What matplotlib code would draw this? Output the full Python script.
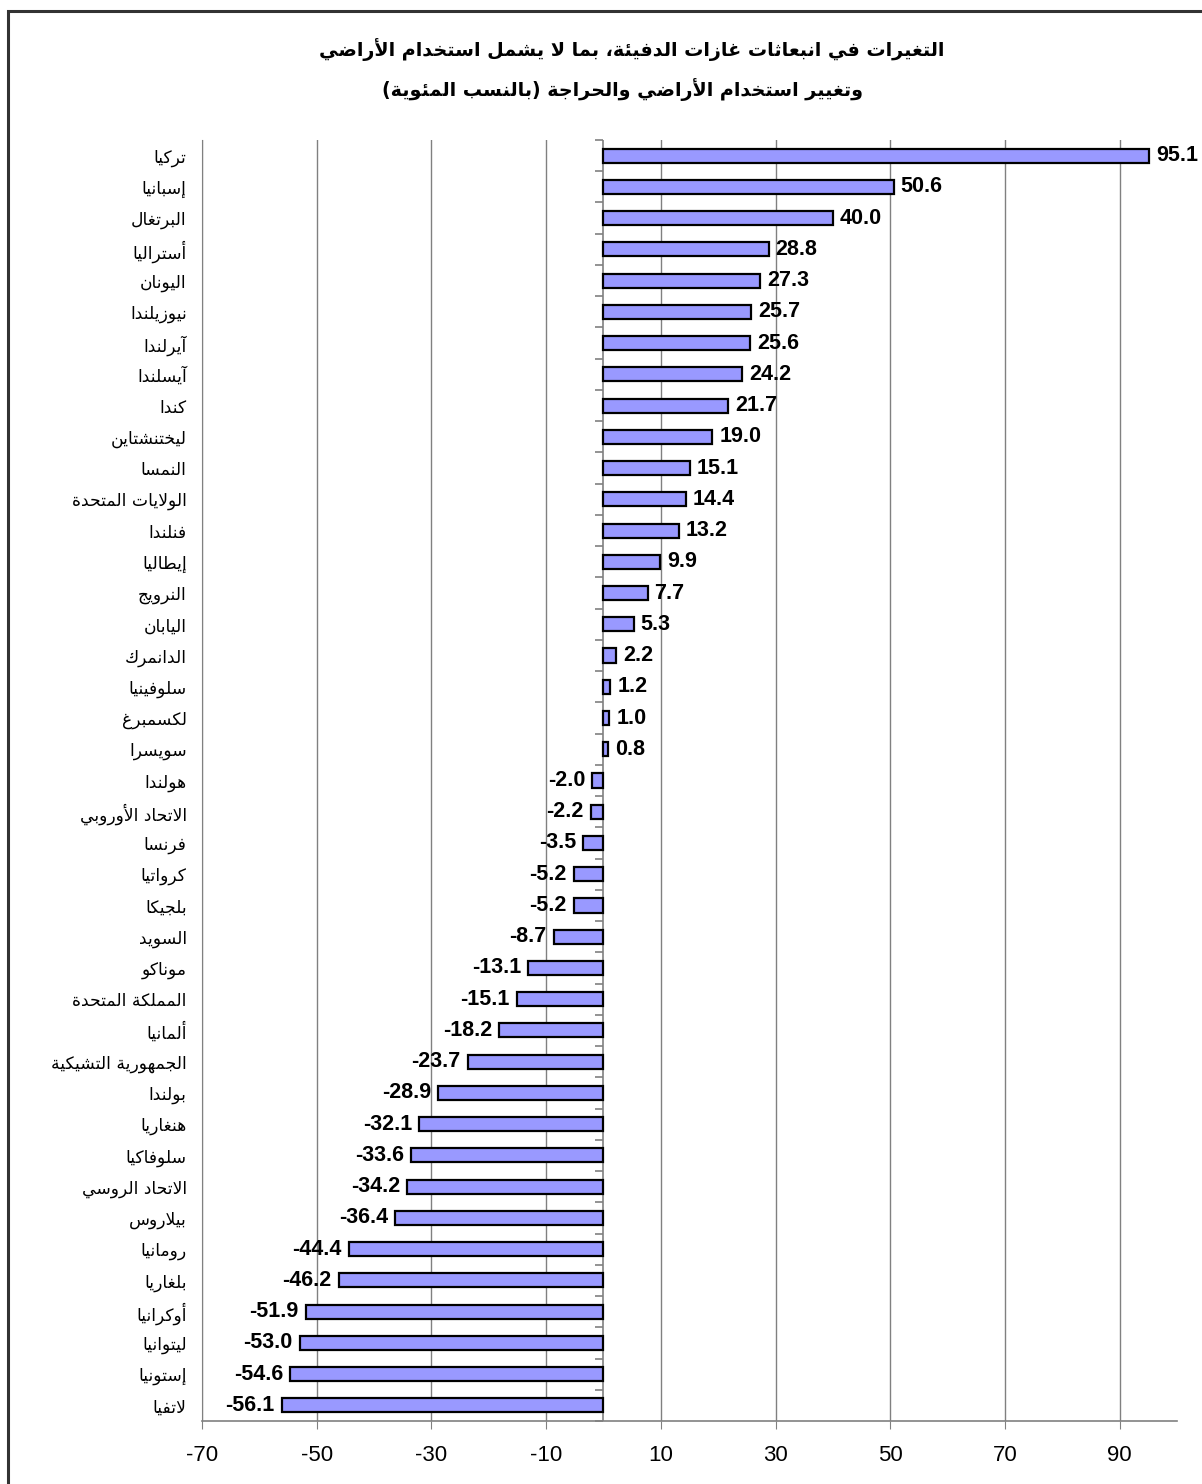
import matplotlib
matplotlib.use("Agg")
import matplotlib.pyplot as plt
from matplotlib.patches import Rectangle
from matplotlib.markers import TICKLEFT

# ---------------- data ----------------
countries = [
    "تركيا", "إسبانيا", "البرتغال", "أستراليا", "اليونان", "نيوزيلندا",
    "آيرلندا", "آيسلندا", "كندا", "ليختنشتاين", "النمسا", "الولايات المتحدة",
    "فنلندا", "إيطاليا", "النرويج", "اليابان", "الدانمرك", "سلوفينيا",
    "لكسمبرغ", "سويسرا", "هولندا", "الاتحاد الأوروبي", "فرنسا", "كرواتيا",
    "بلجيكا", "السويد", "موناكو", "المملكة المتحدة", "ألمانيا",
    "الجمهورية التشيكية", "بولندا", "هنغاريا", "سلوفاكيا", "الاتحاد الروسي",
    "بيلاروس", "رومانيا", "بلغاريا", "أوكرانيا", "ليتوانيا", "إستونيا", "لاتفيا",
]
values = [
    95.1, 50.6, 40.0, 28.8, 27.3, 25.7, 25.6, 24.2, 21.7, 19.0, 15.1, 14.4,
    13.2, 9.9, 7.7, 5.3, 2.2, 1.2, 1.0, 0.8, -2.0, -2.2, -3.5, -5.2, -5.2,
    -8.7, -13.1, -15.1, -18.2, -23.7, -28.9, -32.1, -33.6, -34.2, -36.4,
    -44.4, -46.2, -51.9, -53.0, -54.6, -56.1,
]
xticks = [-70, -50, -30, -10, 10, 30, 50, 70, 90]
title_lines = [
    "التغيرات في انبعاثات غازات الدفيئة، بما لا يشمل استخدام الأراضي",
    "وتغيير استخدام الأراضي والحراجة (بالنسب المئوية)",
]

# ---------------- simple Arabic shaping ----------------
DUAL = {'ئ': 0xFE89, 'ب': 0xFE8F, 'ت': 0xFE95, 'ث': 0xFE99, 'ج': 0xFE9D,
        'ح': 0xFEA1, 'خ': 0xFEA5, 'س': 0xFEB1, 'ش': 0xFEB5, 'ص': 0xFEB9,
        'ض': 0xFEBD, 'ط': 0xFEC1, 'ظ': 0xFEC5, 'ع': 0xFEC9, 'غ': 0xFECD,
        'ف': 0xFED1, 'ق': 0xFED5, 'ك': 0xFED9, 'ل': 0xFEDD, 'م': 0xFEE1,
        'ن': 0xFEE5, 'ه': 0xFEE9, 'ي': 0xFEF1}
RIGHT = {'آ': 0xFE81, 'أ': 0xFE83, 'ؤ': 0xFE85, 'إ': 0xFE87, 'ا': 0xFE8D,
         'ة': 0xFE93, 'د': 0xFEA9, 'ذ': 0xFEAB, 'ر': 0xFEAD, 'ز': 0xFEAF,
         'و': 0xFEED, 'ى': 0xFEEF}
NONJ = {'ء': 0xFE80}
LAMALEF = {'آ': 0xFEF5, 'أ': 0xFEF7, 'إ': 0xFEF9, 'ا': 0xFEFB}


def shape(s):
    out = []
    i, n = 0, len(s)
    while i < n:
        c = s[i]
        prev = s[i - 1] if i > 0 else ''
        jp = prev in DUAL
        if c == 'ل' and i + 1 < n and s[i + 1] in LAMALEF:
            out.append(chr(LAMALEF[s[i + 1]] + (1 if jp else 0)))
            i += 2
            continue
        nxt = s[i + 1] if i + 1 < n else ''
        jn = nxt in DUAL or nxt in RIGHT
        if c in DUAL:
            b = DUAL[c]
            if jp and jn:
                f = b + 3
            elif jp:
                f = b + 1
            elif jn:
                f = b + 2
            else:
                f = b
            out.append(chr(f))
        elif c in RIGHT:
            out.append(chr(RIGHT[c] + (1 if jp else 0)))
        elif c in NONJ:
            out.append(chr(NONJ[c]))
        else:
            out.append(c)
        i += 1
    vis = ''.join(reversed(out))
    return vis.translate(str.maketrans('()', ')('))


# ---------------- figure ----------------
W, H = 1202, 1484
fig = plt.figure(figsize=(W / 100, H / 100), dpi=100)
fig.patch.set_facecolor('white')

# outer chart frame
fig.add_artist(Rectangle((8 / W, -0.1), 1.2, 1 - 11 / H + 0.1,
                         transform=fig.transFigure, fill=False,
                         ec='#333333', lw=2.2))

left, right, top, bottom = 202, 1177, 140, 1421
ax = fig.add_axes([left / W, 1 - bottom / H, (right - left) / W, (bottom - top) / H])

n = len(countries)
ypos = list(range(n))
ax.barh(ypos, values, height=0.45, color='#9999FF', edgecolor='black',
        linewidth=1.6, zorder=3)

ax.set_xlim(-70, 100)
ax.set_ylim(n - 0.5, -0.5)

ax.set_xticks(xticks)
ax.set_xticklabels([str(t) for t in xticks], family='Liberation Sans', fontsize=16)
ax.xaxis.grid(True, color='#808080', lw=1.0, zorder=0)
ax.tick_params(axis='x', direction='out', length=6, color='#808080', pad=11)

ax.set_yticks(ypos)
ax.set_yticklabels([shape(c) for c in countries], family='DejaVu Sans', fontsize=12.3)
ax.tick_params(axis='y', length=0, pad=11)

for s in ['top', 'right']:
    ax.spines[s].set_visible(False)
ax.spines['left'].set_color('#808080')
ax.spines['bottom'].set_color('#808080')
ax.spines['bottom'].set_linewidth(1.2)

# category axis at zero with tick marks between categories
ax.axvline(0, color='#808080', lw=1.2, zorder=2)
bounds = [k - 0.5 for k in range(n + 1)]
ax.plot([0] * len(bounds), bounds, ls='none', marker=TICKLEFT, ms=6,
        mew=1.2, color='#808080', zorder=2, clip_on=False)

# value labels
for y, v in zip(ypos, values):
    ax.annotate(f"{v:.1f}", xy=(v, y), xytext=(5 if v >= 0 else -5, 0),
                textcoords='offset points',
                ha='left' if v >= 0 else 'right', va='center',
                family='Liberation Sans', fontweight='bold', fontsize=15.5,
                zorder=4)

# title
fig.text(632 / W, 1 - 50 / H, shape(title_lines[0]), ha='center', va='center',
         family='DejaVu Sans', fontweight='bold', fontsize=13.8)
fig.text(622 / W, 1 - 90 / H, shape(title_lines[1]), ha='center', va='center',
         family='DejaVu Sans', fontweight='bold', fontsize=13.8)

fig.savefig('out.png', dpi=100, facecolor='white')
